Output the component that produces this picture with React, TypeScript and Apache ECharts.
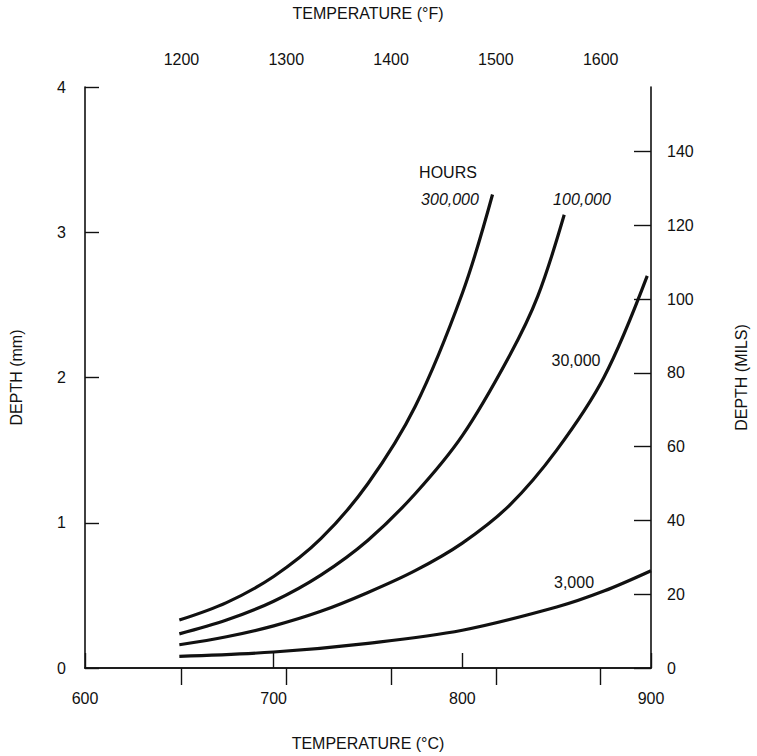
import React, { useEffect, useRef } from "react";
import * as echarts from "echarts";

// Temperatures (°C) and depths (mm)
const t300k = [650, 675, 700, 725, 750, 775, 800, 816];
const d300k = [0.33, 0.45, 0.63, 0.89, 1.27, 1.8, 2.58, 3.26];

const t100k = [650, 675, 700, 725, 750, 775, 800, 825, 840, 854];
const d100k = [0.235, 0.33, 0.46, 0.64, 0.88, 1.2, 1.6, 2.15, 2.56, 3.12];

const t30k = [650, 675, 700, 725, 750, 775, 800, 825, 850, 875, 898];
const d30k = [0.16, 0.215, 0.29, 0.39, 0.52, 0.67, 0.86, 1.12, 1.5, 2.0, 2.7];

const t3k = [650, 700, 750, 800, 850, 875, 900];
const d3k = [0.08, 0.11, 0.17, 0.26, 0.42, 0.53, 0.67];

const fTicks = [1200, 1300, 1400, 1500, 1600];
const seriesNames = ["300,000", "100,000", "30,000", "3,000"];

const FONT = "'Liberation Sans', Arial, sans-serif";
const INK = "#111";

const zip = (xs: number[], ys: number[]) => xs.map((x, i) => [x, ys[i]]);

export default function App() {
  const ref = useRef<HTMLDivElement>(null);
  useEffect(() => {
    if (!ref.current) return;
    const chart = echarts.init(ref.current, undefined, { renderer: "svg" });
    const axisLine = { show: true, lineStyle: { color: INK, width: 1.6 } };
    const label = { color: INK, fontSize: 16, fontFamily: FONT, formatter: (v: number) => String(Math.round(v)) };
    const nameStyle = { color: INK, fontSize: 16, fontFamily: FONT };
    const mk = (name: string, xs: number[], ys: number[]) => ({
      name,
      type: "line",
      xAxisIndex: 0,
      yAxisIndex: 0,
      data: zip(xs, ys),
      smooth: 0.35,
      symbol: "none",
      lineStyle: { color: INK, width: 3.2 },
    });
    chart.setOption({
      animation: false,
      backgroundColor: "#fff",
      grid: { left: 81, right: 91, top: 84, bottom: 83 },
      xAxis: [
        {
          type: "value",
          position: "bottom",
          min: 600,
          max: 900,
          interval: 100,
          axisLine,
          axisTick: { show: true, inside: true, length: 15, lineStyle: { color: INK, width: 1.4 } },
          axisLabel: { ...label, margin: 22 },
          splitLine: { show: false },
          name: "TEMPERATURE (°C)",
          nameLocation: "middle",
          nameGap: 67,
          nameTextStyle: nameStyle,
        },
        {
          type: "value",
          position: "top",
          min: 1108,
          max: 1648,
          axisLine,
          axisTick: { show: true, inside: true, length: 17, customValues: fTicks, lineStyle: { color: INK, width: 1.4 } },
          axisLabel: { ...label, margin: 20, customValues: fTicks },
          splitLine: { show: false },
          name: "TEMPERATURE (°F)",
          nameLocation: "middle",
          nameGap: 66,
          nameTextStyle: nameStyle,
        },
      ],
      yAxis: [
        {
          type: "value",
          position: "left",
          min: 0,
          max: 4,
          interval: 1,
          axisLine,
          axisTick: { show: true, inside: true, length: 14, lineStyle: { color: INK, width: 1.4 } },
          axisLabel: { ...label, margin: 19 },
          splitLine: { show: false },
          name: "DEPTH (mm)",
          nameLocation: "middle",
          nameRotate: 90,
          nameGap: 61,
          nameTextStyle: nameStyle,
        },
        {
          type: "value",
          position: "right",
          min: 0,
          max: 4 / 0.0254,
          interval: 20,
          axisLine,
          axisTick: { show: true, inside: true, length: 17, lineStyle: { color: INK, width: 1.4 } },
          axisLabel: { ...label, margin: 16, showMaxLabel: false },
          splitLine: { show: false },
          name: "DEPTH (MILS)",
          nameLocation: "middle",
          nameRotate: 90,
          nameGap: 82,
          nameTextStyle: nameStyle,
        },
      ],
      series: [
        mk(seriesNames[0], t300k, d300k),
        mk(seriesNames[1], t100k, d100k),
        mk(seriesNames[2], t30k, d30k),
        mk(seriesNames[3], t3k, d3k),
      ],
      graphic: [
        { type: "text", x: 448, y: 172, style: { text: "HOURS", font: `16px ${FONT}`, fill: INK, textAlign: "center", textVerticalAlign: "middle" } },
        { type: "text", x: 450, y: 199, style: { text: seriesNames[0], font: `italic 16px ${FONT}`, fill: INK, textAlign: "center", textVerticalAlign: "middle" } },
        { type: "text", x: 582, y: 199, style: { text: seriesNames[1], font: `italic 16px ${FONT}`, fill: INK, textAlign: "center", textVerticalAlign: "middle" } },
        { type: "text", x: 576, y: 360, style: { text: seriesNames[2], font: `16px ${FONT}`, fill: INK, textAlign: "center", textVerticalAlign: "middle" } },
        { type: "text", x: 574, y: 582, style: { text: seriesNames[3], font: `16px ${FONT}`, fill: INK, textAlign: "center", textVerticalAlign: "middle" } },
      ],
    });
    return () => chart.dispose();
  }, []);
  return (
    <div
      ref={ref}
      style={{ position: "fixed", left: 0, top: 0, width: 757, height: 756, background: "#fff" }}
    />
  );
}
